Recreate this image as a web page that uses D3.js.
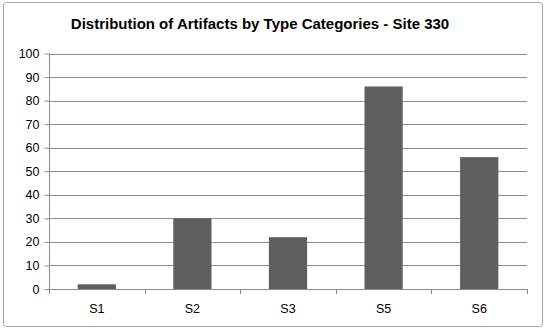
<!DOCTYPE html>
<html>
<head>
<meta charset="utf-8">
<script src="https://cdn.jsdelivr.net/npm/d3@7"></script>
<style>
  body { margin: 0; background: #fff; }
  text { font-family: "Liberation Sans", Arial, sans-serif; fill: #000; }
</style>
</head>
<body>
<div id="chart"></div>
<script>
var categories = ['S1', 'S2', 'S3', 'S5', 'S6'];
var values = [2, 30, 22, 86, 56];
var yTicks = [0, 10, 20, 30, 40, 50, 60, 70, 80, 90, 100];

var W = 548, H = 331;
var plotLeft = 49, plotRight = 527, plotTop = 53.5, plotBottom = 289;

var svg = d3.select('#chart')
  .append('svg')
  .attr('width', W)
  .attr('height', H);

// outer frame
svg.append('rect')
  .attr('x', 3.5)
  .attr('y', 2.5)
  .attr('width', 539)
  .attr('height', 324)
  .attr('rx', 3)
  .style('fill', '#fff')
  .style('stroke', '#a6a6a6')
  .style('stroke-width', 1);

svg.append('text')
  .attr('x', 260)
  .attr('y', 29)
  .attr('text-anchor', 'middle')
  .style('font-size', '15px')
  .style('font-weight', 'bold')
  .text('Distribution of Artifacts by Type Categories - Site 330');

var x = d3.scaleBand()
  .domain(categories)
  .range([plotLeft, plotRight])
  .paddingInner(0.6)
  .paddingOuter(0.3);

var y = d3.scaleLinear()
  .domain([0, 100])
  .range([plotBottom, plotTop]);

// gridlines
svg.append('g')
  .selectAll('line')
  .data(yTicks.slice(1))
  .enter()
  .append('line')
  .attr('x1', plotLeft)
  .attr('x2', plotRight)
  .attr('y1', function(d) { return Math.round(y(d)) + 0.5; })
  .attr('y2', function(d) { return Math.round(y(d)) + 0.5; })
  .style('stroke', '#8c8c8c')
  .style('stroke-width', 1);

// bars
svg.append('g')
  .selectAll('rect')
  .data(values)
  .enter()
  .append('rect')
  .attr('x', function(d, i) { return x(categories[i]); })
  .attr('width', x.bandwidth())
  .attr('y', function(d) { return y(d); })
  .attr('height', function(d) { return plotBottom - y(d); })
  .style('fill', '#5f5f5f');

// y axis
var yAxis = svg.append('g')
  .attr('transform', 'translate(' + (plotLeft + 0.5) + ',0)')
  .call(d3.axisLeft(y).tickValues(yTicks).tickSize(5).tickPadding(5));
yAxis.selectAll('line,path').style('stroke', '#8c8c8c');
yAxis.selectAll('text').style('font-size', '12.5px').style('font-family', '"Liberation Sans", Arial, sans-serif');
yAxis.select('.domain').attr('d', 'M0,' + plotTop + 'V' + plotBottom);

// x axis with ticks between categories
var xg = svg.append('g');
xg.append('line')
  .attr('x1', plotLeft)
  .attr('x2', plotRight)
  .attr('y1', Math.round(plotBottom) + 0.5)
  .attr('y2', Math.round(plotBottom) + 0.5)
  .style('stroke', '#8c8c8c');
var bounds = d3.range(categories.length + 1).map(function(i) {
  return plotLeft + i * (plotRight - plotLeft) / categories.length;
});
xg.selectAll('line.tick')
  .data(bounds)
  .enter()
  .append('line')
  .attr('class', 'tick')
  .attr('x1', function(d) { return Math.round(d) + 0.5; })
  .attr('x2', function(d) { return Math.round(d) + 0.5; })
  .attr('y1', plotBottom)
  .attr('y2', plotBottom + 5)
  .style('stroke', '#8c8c8c');
xg.selectAll('text')
  .data(categories)
  .enter()
  .append('text')
  .attr('x', function(d) { return x(d) + x.bandwidth() / 2; })
  .attr('y', 313)
  .attr('text-anchor', 'middle')
  .style('font-size', '12.5px')
  .text(function(d) { return d; });
</script>
</body>
</html>
